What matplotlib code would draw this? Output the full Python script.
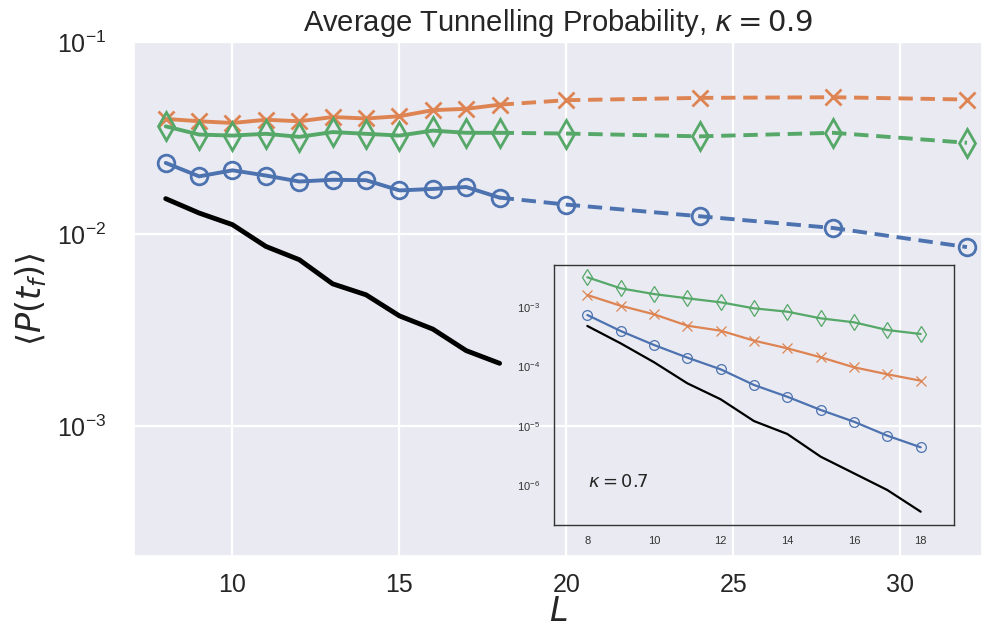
import numpy as np
import matplotlib
matplotlib.use("Agg")
import matplotlib.pyplot as plt
import seaborn as sns
from matplotlib.ticker import LogLocator, NullLocator

sns.set_theme(style="darkgrid")
plt.rcParams["font.family"] = ["Liberation Sans", "DejaVu Sans"]
plt.rcParams["mathtext.fontset"] = "dejavusans"

# ---- kappa = 0.9 (main panel) ----
L_main = [8, 9, 10, 11, 12, 13, 14, 15, 16, 17, 18]
L_ext = [20, 24, 28, 32]

p_circle = [0.0235, 0.0200, 0.0215, 0.0202, 0.0188, 0.0192, 0.0191, 0.0169, 0.0172, 0.0176, 0.0155]
p_circle_ext = [0.01426, 0.01240, 0.01077, 0.00857]

p_cross = [0.0398, 0.0387, 0.0379, 0.0394, 0.0387, 0.0407, 0.0400, 0.0411, 0.0442, 0.0449, 0.0472]
p_cross_ext = [0.0498, 0.0512, 0.0516, 0.0502]

p_diamond = [0.0364, 0.0330, 0.0326, 0.0333, 0.0321, 0.0340, 0.0333, 0.0326, 0.0346, 0.0337, 0.0337]
p_diamond_ext = [0.0334, 0.0323, 0.0337, 0.0299]

p_ref = [0.01531, 0.01289, 0.01121, 0.00864, 0.00737, 0.00552, 0.00484, 0.00376, 0.00321, 0.00248, 0.00213]

# ---- kappa = 0.7 (inset) ----
L_in = [8, 9, 10, 11, 12, 13, 14, 15, 16, 17, 18]
in_circle = [7.34e-4, 3.95e-4, 2.30e-4, 1.41e-4, 8.97e-5, 4.89e-5, 3.10e-5, 1.86e-5, 1.18e-5, 6.87e-6, 4.39e-6]
in_cross = [1.59e-3, 1.05e-3, 7.54e-4, 4.85e-4, 4.00e-4, 2.72e-4, 2.02e-4, 1.43e-4, 9.7e-5, 7.4e-5, 5.77e-5]
in_diamond = [3.16e-3, 2.06e-3, 1.65e-3, 1.40e-3, 1.20e-3, 9.5e-4, 8.34e-4, 6.45e-4, 5.53e-4, 4.10e-4, 3.52e-4]
in_ref = [4.80e-4, 2.45e-4, 1.18e-4, 5.22e-5, 2.81e-5, 1.21e-5, 7.34e-6, 3.05e-6, 1.60e-6, 8.39e-7, 3.63e-7]

blue, orange, green = "#4C72B0", "#DD8452", "#55A868"

fig = plt.figure(figsize=(9.86, 6.38), dpi=100)
ax = fig.add_axes([134 / 986, 82 / 638, 848 / 986, 514 / 638])

styles = [
    (p_circle, p_circle_ext, blue, "o", 12),
    (p_cross, p_cross_ext, orange, "x", 12),
    (p_diamond, p_diamond_ext, green, "d", 14),
]
for vals, ext, col, mk, ms in styles:
    ax.plot(L_main, vals, color=col, lw=2.8, marker=mk, ms=ms, mfc="none",
            mec=col, mew=2.0)
    ax.plot([L_main[-1]] + L_ext, [vals[-1]] + ext, color=col, lw=2.8,
            ls=(0, (3.7, 2.0)), marker=mk, ms=ms, mfc="none", mec=col, mew=2.0,
            markevery=list(range(1, len(ext) + 1)))
ax.plot(L_main, p_ref, color="black", lw=3.5)

ax.set_yscale("log")
ax.set_ylim(10 ** -3.674, 0.1)
ax.set_xlim(7.05, 32.45)
ax.set_xticks([10, 15, 20, 25, 30])
ax.yaxis.set_major_locator(LogLocator(base=10, numticks=10))
ax.yaxis.set_minor_locator(NullLocator())
ax.tick_params(axis="both", labelsize=18, colors="#262626")
ax.tick_params(axis="x", pad=6)
ax.tick_params(axis="y", pad=14)
ax.grid(True, which="major", color="white", lw=1.6)
ax.set_title(r"Average Tunnelling Probability, $\kappa = 0.9$", fontsize=21, pad=8,
             color="#262626")
ax.set_xlabel(r"$L$", fontsize=24, labelpad=0, color="#262626")
ax.set_ylabel(r"$\langle P(t_f) \rangle$", fontsize=24, labelpad=6, color="#262626")

# inset
axin = fig.add_axes([554 / 986, (638 - 525) / 638, 400 / 986, 260 / 638])
axin.patch.set_alpha(0.0)
axin.grid(False)
for s in axin.spines.values():
    s.set_visible(True)
    s.set_color("#333333")
    s.set_linewidth(1.0)
for vals, col, mk, ms in [(in_circle, blue, "o", 7), (in_cross, orange, "x", 7), (in_diamond, green, "d", 8)]:
    axin.plot(L_in, vals, color=col, lw=1.6, marker=mk, ms=ms, mfc="none", mec=col, mew=0.9)
axin.plot(L_in, in_ref, color="black", lw=1.6)
axin.set_yscale("log")
axin.set_ylim(10 ** -6.664, 10 ** -2.294)
axin.set_xlim(7, 19)
axin.set_xticks([8, 10, 12, 14, 16, 18])
axin.yaxis.set_major_locator(LogLocator(base=10, numticks=10))
axin.yaxis.set_minor_locator(NullLocator())
axin.tick_params(axis="both", labelsize=8, colors="#333333", length=0)
axin.tick_params(axis="x", pad=8)
axin.tick_params(axis="y", pad=10)
axin.text(0.085, 0.165, r"$\kappa = 0.7$", transform=axin.transAxes, fontsize=13,
          color="#262626", va="center", ha="left")

fig.savefig("out.png", dpi=100)
